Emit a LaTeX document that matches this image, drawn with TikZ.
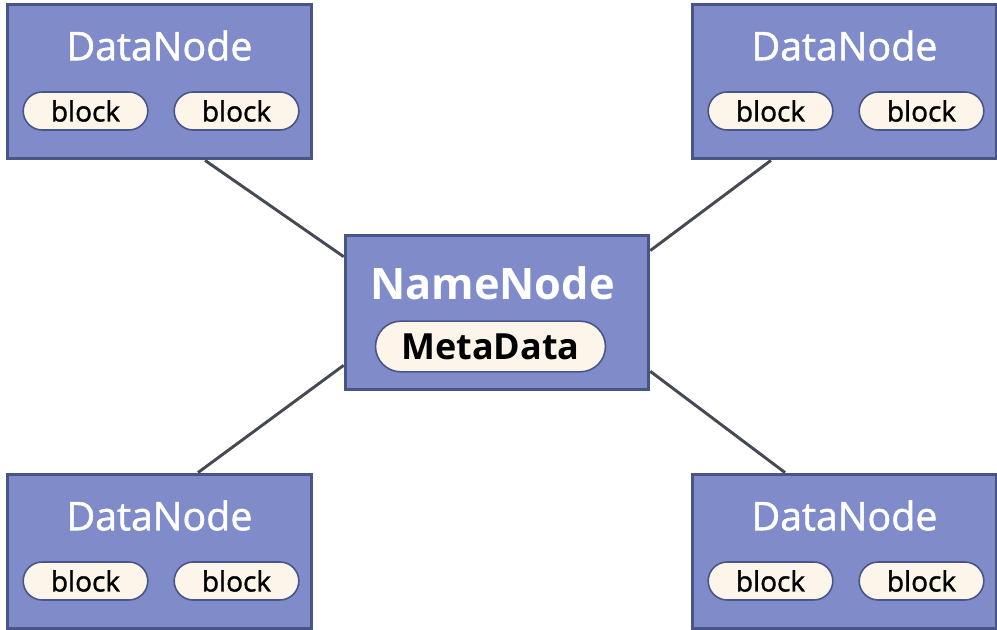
\documentclass[tikz,border=0pt]{standalone}
\usepackage{fontspec}
\setmainfont{Open Sans}
\newfontfamily\heavyfont[FakeBold=1.3]{Open Sans}
\usepackage{color}
\usetikzlibrary{shapes.misc}
\definecolor{boxfill}{HTML}{7F8CC9}
\definecolor{boxline}{HTML}{4A5587}
\definecolor{pillfill}{HTML}{FDF5E9}
\definecolor{wireline}{HTML}{454A52}

\begin{document}
\begin{tikzpicture}[x=0.75pt,y=-0.75pt,
	nodebox/.style={rectangle,draw=boxline,fill=boxfill,line width=2.4pt,minimum width=227.5pt,minimum height=116pt},
	pill/.style={rounded rectangle,draw=boxline,fill=pillfill,line width=1.2pt,inner sep=0pt,text=black},
	title/.style={text=white,inner sep=0pt},
	wire/.style={draw=wireline,line width=2.2pt}]
	\useasboundingbox (0,0) rectangle (997,630);
	\fill[white] (0,0) rectangle (997,630);

	\foreach \i/\x/\y in {1/159.5/81.5,2/844.5/81.5,3/159.5/551.5,4/844.5/551.5} {
		\node[nodebox] (D\i) at (\x,\y) {};
		\node[title,font=\heavyfont\fontsize{29.5}{32}\selectfont] (T\i) at (\x,\y-36) {DataNode};
		\node[pill,minimum width=93.5pt,minimum height=28.5pt,font=\heavyfont\fontsize{21}{24}\selectfont] (L\i) at (\x-74,\y+29.5) {block};
		\node[pill,minimum width=93.5pt,minimum height=28.5pt,font=\heavyfont\fontsize{21}{24}\selectfont] (R\i) at (\x+77,\y+29.5) {block};
	}

	\node[nodebox] (N) at (497,312.5) {};
	\node[title,font=\fontsize{32.5}{36}\selectfont\bfseries] (NT) at (492.5,283) {NameNode};
	\node[pill,minimum width=172.5pt,minimum height=38pt,font=\fontsize{27}{30}\selectfont\bfseries] (M) at (490.5,346.5) {MetaData};

	\draw[wire] (D1.-60) -- (N.160);
	\draw[wire] (D2.227) -- (N.22);
	\draw[wire] (D3.64) -- (N.199);
	\draw[wire] (D4.127) -- (N.-21);
\end{tikzpicture}
\end{document}
